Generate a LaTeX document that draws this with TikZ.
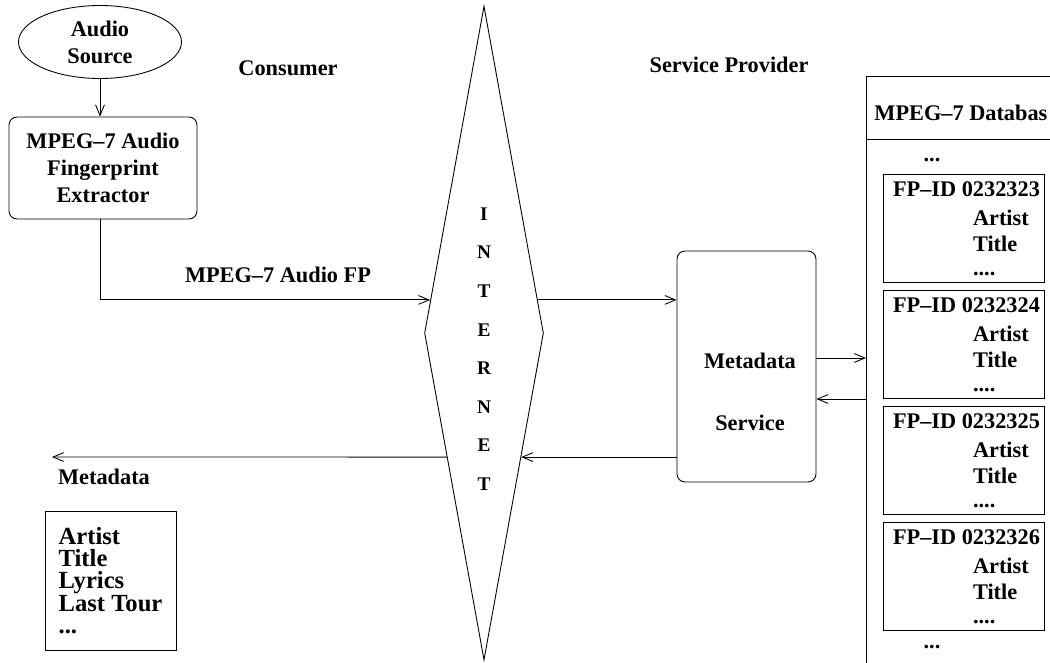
\documentclass[tikz,border=0pt]{standalone}
\usepackage{fontspec}
\setmainfont{Liberation Serif}
\usetikzlibrary{shapes.geometric,arrows.meta,calc}

\begin{document}
\begin{tikzpicture}[x=.02cm,y=-.02cm,line width=.5pt,
    font=\bfseries\fontsize{12.7}{15.3}\selectfont,
    >={Straight Barb[length=6pt,width=5pt]},
    proc/.style={draw,rounded corners=.16cm,inner sep=0pt,align=center},
    fpbox/.style={draw,minimum width=3.22cm,minimum height=2.16cm,inner sep=0pt},
    txt/.style={inner sep=0pt}]
  \useasboundingbox (0,0) rectangle (1050,662);
  \clip (0,0) rectangle (1050,662);
  % consumer side
  \node[draw,ellipse,minimum width=3.26cm,minimum height=1.46cm,inner sep=0pt,align=center] (src) at (100,42) {Audio\\Source};
  \node[proc,minimum width=3.76cm,minimum height=2.04cm] (ext) at (103,168) {MPEG--7 Audio\\Fingerprint\\Extractor};
  \node[txt] (cons) at (288,68) {Consumer};
  \node[txt] (fplab) at (278,275) {MPEG--7 Audio FP};
  \node[txt] (mdlab) at (104,477) {Metadata};
  \node[draw,minimum width=2.62cm,minimum height=2.78cm,inner sep=0pt,align=left,
        font=\bfseries\fontsize{14}{12.6}\selectfont] (mdlist) at (110.5,580.5) {Artist\\Title\\Lyrics\\Last Tour\\...};
  % internet
  \node[draw,diamond,minimum width=2.38cm,minimum height=13.08cm,inner sep=0pt] (inet) at (484,333) {};
  \node[txt,align=center,font=\bfseries\fontsize{11}{22}\selectfont] (inetlab) at (484,349) {I\\N\\T\\E\\R\\N\\E\\T};
  \coordinate (inNW) at ($(inet.north)!.899!(inet.west)$);
  \coordinate (inNE) at ($(inet.north)!.899!(inet.east)$);
  \coordinate (inSW) at ($(inet.west)!.379!(inet.south)$);
  \coordinate (inSE) at ($(inet.east)!.379!(inet.south)$);
  % service provider
  \node[txt] (prov) at (729,65) {Service Provider};
  \node[proc,minimum width=2.78cm,minimum height=4.62cm] (mds) at (746.5,366.5) {};
  \node[txt,align=center,font=\bfseries\fontsize{12.7}{35}\selectfont] (mdslab) at (750,392) {Metadata\\Service};
  \node[draw,anchor=north west,minimum width=4cm,minimum height=12.5cm,inner sep=0pt] (db) at (866,76) {};
  \draw (db.west |- 0,139) -- (db.east |- 0,139);
  \node[txt,anchor=west] (dbhead) at (874,113) {MPEG--7 Databas};
  \node[txt] (dotsA) at (932,160) {...};
  \foreach \i/\id in {1/0232323,2/0232324,3/0232325,4/0232326}{
    \node[fpbox] (fp\i) at (963.5,{228+116*(\i-1)}) {};
    \node[txt,anchor=west] at ($(fp\i.north west)+(10,16)$) {FP--ID \id};
    \node[txt,anchor=west] at ($(fp\i.north west)+(90,44)$) {Artist};
    \node[txt,anchor=west] at ($(fp\i.north west)+(90,70)$) {Title};
    \node[txt,anchor=west] at ($(fp\i.north west)+(90,100)$) {....};
  }
  \node[txt] (dotsB) at (932,647) {...};
  % connectors
  \draw[->] (src.south) -- (src.south |- ext.north);
  \draw[->] (src.south |- ext.south) |- (inNW);
  \draw[->] (inNE) -- (mds.west |- inNE);
  \draw[->] (mds.east |- 0,358) -- (db.west |- 0,358);
  \draw[->] (db.west |- 0,399) -- (mds.east |- 0,399);
  \draw[->] (mds.west |- inSE) -- (inSE);
  \coordinate (mdout) at (52,457);
  \draw[->] (inSW) -- (mdout);
\end{tikzpicture}
\end{document}
